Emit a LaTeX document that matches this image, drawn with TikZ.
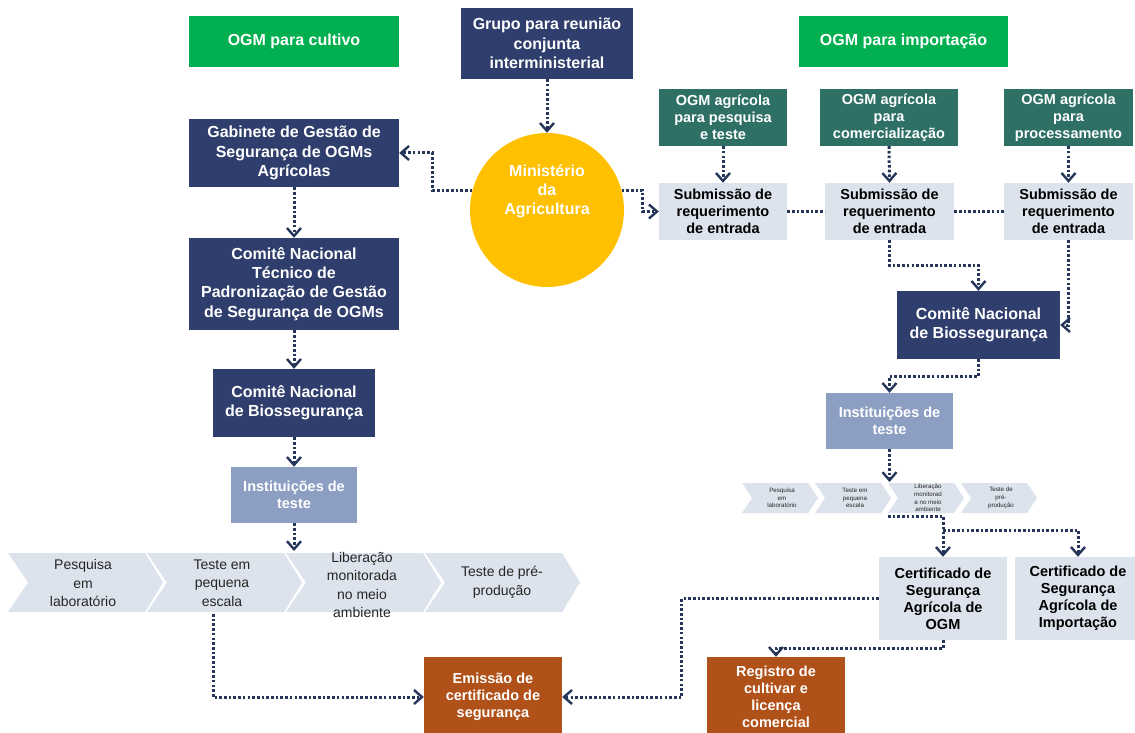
\documentclass[tikz,border=0pt]{standalone}
\usepackage{fontspec}
\setmainfont{Liberation Sans}
\usetikzlibrary{arrows.meta}
\definecolor{navy}{HTML}{2F3E6C}
\definecolor{ogmgreen}{HTML}{00B050}
\definecolor{teal}{HTML}{2E7066}
\definecolor{lightbx}{HTML}{DDE3EC}
\definecolor{midblue}{HTML}{8C9FC2}
\definecolor{rust}{HTML}{AF5118}
\definecolor{gold}{HTML}{FFC000}
\definecolor{lnc}{HTML}{26355A}
\definecolor{chevtxt}{HTML}{262626}
\tikzset{
  bx/.style={inner sep=0pt, align=center, text=white, font=\bfseries\fontsize{16}{19.3}\selectfont},
  md/.style={font=\bfseries\fontsize{14.5}{17}\selectfont},
  dk/.style={text=black},
  dotl/.style={draw=lnc, line width=3pt, dash pattern=on 2.6pt off 2.1pt},
  arr/.style={dotl, -{Straight Barb[length=8pt,width=14pt,line width=2.4pt]}},
  bigchev/.pic={\fill[lightbx] (0,0) -- (137,0) -- (155,29.5) -- (137,59) -- (0,59) -- (20,29.5) -- cycle;},
  smallchev/.pic={\fill[lightbx] (0,0) -- (66,0) -- (76,15) -- (66,30) -- (0,30) -- (10,15) -- cycle;},
  bigct/.style={inner sep=0pt, align=center, text=chevtxt, font=\fontsize{14}{18.5}\selectfont},
  smallct/.style={inner sep=0pt, align=center, text=chevtxt, font=\fontsize{6.2}{7.6}\selectfont},
}
\begin{document}
\begin{tikzpicture}[x=1pt,y=-1pt]
\fill[white] (0,0) rectangle (1135,733);
\useasboundingbox (0,0) rectangle (1135,733);

% ---------- top row
\node[bx, fill=ogmgreen, minimum width=210pt, minimum height=51pt] (cult) at (294,41.5) {OGM para cultivo};
\node[bx, fill=navy, minimum width=172pt, minimum height=71pt] (grp) at (547,43.5) {Grupo para reunião\\conjunta\\interministerial};
\node[bx, fill=ogmgreen, minimum width=209pt, minimum height=51pt] (imp) at (903.5,41.5) {OGM para importação};

% ---------- ministry
\node[circle, fill=gold, minimum size=154pt, inner sep=0pt] (min) at (547,210) {};
\node[bx] (mintxt) at (547,191.5) {Ministério\\da\\Agricultura};

% ---------- left column
\node[bx, fill=navy, minimum width=210pt, minimum height=68pt] (gab) at (294,153) {Gabinete de Gestão de\\Segurança de OGMs\\Agrícolas};
\node[bx, fill=navy, minimum width=210pt, minimum height=92pt] (ct) at (294,284) {Comitê Nacional\\Técnico de\\Padronização de Gestão\\de Segurança de OGMs};
\node[bx, fill=navy, minimum width=162pt, minimum height=68pt] (cbl) at (294,403) {Comitê Nacional\\de Biossegurança};
\node[bx, md, fill=midblue, minimum width=126pt, minimum height=56pt] (instl) at (294,495) {Instituições de\\teste};

\pic at (8,553) {bigchev};
\pic at (147,553) {bigchev};
\pic at (286,553) {bigchev};
\pic at (425,553) {bigchev};
\node[bigct] (lc1) at (83,583) {Pesquisa\\em\\laboratório};
\node[bigct] (lc2) at (222,583) {Teste em\\pequena\\escala};
\node[bigct] (lc3) at (362,585) {Liberação\\monitorada\\no meio\\ambiente};
\node[bigct] (lc4) at (502,582.5) {Teste de pré-\\produção};
\coordinate (lctop) at (294,551);
\coordinate (lc2b) at (213,614);

\node[bx, md, fill=rust, minimum width=138pt, minimum height=80pt] (emis) at (493,697) {Emissão de\\certificado de\\segurança};
\node[bx, md, fill=rust, minimum width=138pt, minimum height=80pt] (reg) at (776,697) {Registro de\\cultivar e\\licença\\comercial};

% ---------- right column
\node[bx, md, fill=teal, minimum width=128pt, minimum height=57pt] (t1) at (723,117.5) {OGM agrícola\\para pesquisa\\e teste};
\node[bx, md, fill=teal, minimum width=138pt, minimum height=57pt] (t2) at (889,117.5) {OGM agrícola\\para\\comercialização};
\node[bx, md, fill=teal, minimum width=129pt, minimum height=57pt] (t3) at (1068.5,117.5) {OGM agrícola\\para\\processamento};

\node[bx, md, dk, fill=lightbx, minimum width=128pt, minimum height=57pt] (s1) at (723,211.5) {Submissão de\\requerimento\\de entrada};
\node[bx, md, dk, fill=lightbx, minimum width=129pt, minimum height=57pt] (s2) at (889.5,211.5) {Submissão de\\requerimento\\de entrada};
\node[bx, md, dk, fill=lightbx, minimum width=129pt, minimum height=57pt] (s3) at (1068.5,211.5) {Submissão de\\requerimento\\de entrada};

\node[bx, fill=navy, minimum width=163pt, minimum height=68pt] (cbr) at (978.5,325) {Comitê Nacional\\de Biossegurança};
\node[bx, md, fill=midblue, minimum width=127pt, minimum height=56pt] (instr) at (889.5,421) {Instituições de\\teste};

\pic at (742,483) {smallchev};
\pic at (815,483) {smallchev};
\pic at (888,483) {smallchev};
\pic at (961,483) {smallchev};
\node[smallct] (rc1) at (782,498) {Pesquisa\\em\\laboratório};
\node[smallct] (rc2) at (855,498) {Teste em\\pequena\\escala};
\node[smallct] (rc3) at (928,498) {Liberação\\monitorad\\a no meio\\ambiente};
\node[smallct] (rc4) at (1001,498) {Teste de\\pré-\\produção};
\coordinate (rctop) at (889.5,482);
\coordinate (rc3b) at (888,516);
\coordinate (br) at (943,530);

\node[bx, md, dk, fill=lightbx, minimum width=128pt, minimum height=83pt] (certo) at (943,598.5) {Certificado de\\Segurança\\Agrícola de\\OGM};
\node[bx, md, dk, fill=lightbx, minimum width=126pt, minimum height=83pt] (certi) at (1078,598.5) {Certificado de\\Segurança\\Agrícola de\\Importação};

% ---------- connectors
\draw[arr] (grp.south) -- (min.north);
\draw[arr] (min.165) -- ++(-40,0) |- (gab.east);
\draw[arr] (min.15) -- ++(21,0) |- (s1.west);
\draw[arr] (gab.south) -- (ct.north);
\draw[arr] (ct.south) -- (cbl.north);
\draw[arr] (cbl.south) -- (instl.north);
\draw[arr] (instl.south) -- (lctop);
\draw[arr] (lc2b) |- (emis.west);

\draw[arr] (t1.south) -- (s1.north);
\draw[arr] (t2.south) -- (s2.north);
\draw[arr] (t3.south) -- (s3.north);
\draw[dotl] (s1.east) -- (s2.west);
\draw[dotl] (s2.east) -- (s3.west);
\draw[arr] (s2.south) -- ++(0,25) -| (cbr.north);
\draw[arr] (s3.south) |- (cbr.east);
\draw[arr] (cbr.south) -- ++(0,17) -| (instr.north);
\draw[arr] (instr.south) -- (rctop);
\draw[arr] (rc3b) -| (certo.north);
\draw[arr] (br) -| (certi.north);
\draw[arr] (certo.west) -- ++(-197,0) |- (emis.east);
\draw[arr] (certo.south) -- ++(0,8) -| (reg.north);
\end{tikzpicture}
\end{document}
